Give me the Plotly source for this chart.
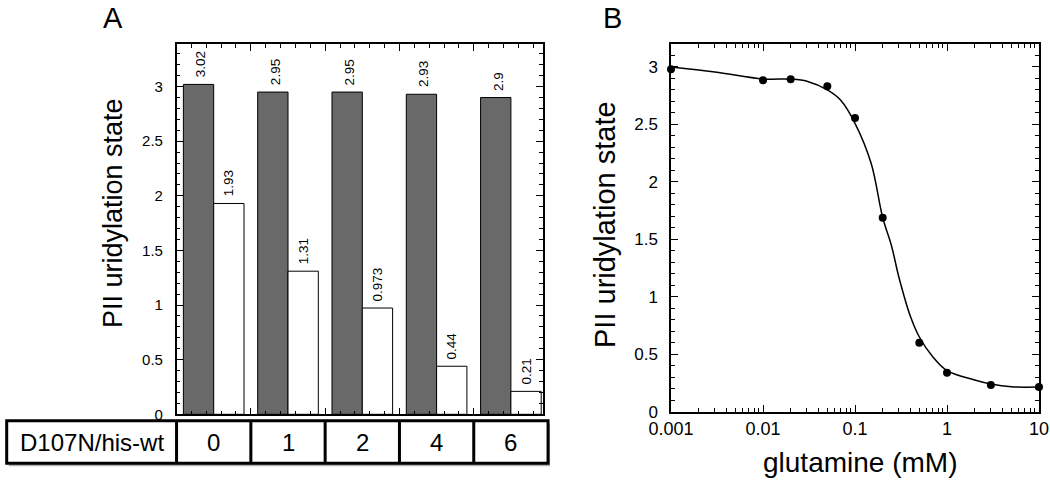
import plotly.graph_objects as go

# ---------------- data ----------------
ratio_labels = ["0", "1", "2", "4", "6"]          # D107N/his-wt ratio
group_index = [0, 1, 2, 3, 4]
his_wt_alone = [3.02, 2.95, 2.95, 2.93, 2.9]       # dark bars
with_d107n = [1.93, 1.31, 0.973, 0.44, 0.21]       # white bars
gray_labels = ["3.02", "2.95", "2.95", "2.93", "2.9"]
white_labels = ["1.93", "1.31", "0.973", "0.44", "0.21"]

glutamine_mM = [0.001, 0.01, 0.02, 0.05, 0.1, 0.2, 0.5, 1, 3, 10]
uridylation = [2.98, 2.884, 2.893, 2.832, 2.557, 1.687, 0.60, 0.339, 0.232, 0.215]

fit_x = [0.001, 0.003, 0.01, 0.02, 0.03, 0.05, 0.07, 0.1, 0.15, 0.2, 0.25, 0.3,
         0.4, 0.5, 0.7, 1, 2, 3, 5, 10]
fit_y = [3.0, 2.957, 2.896, 2.894, 2.876, 2.80, 2.71, 2.51, 2.16, 1.69, 1.44, 1.17,
         0.83, 0.65, 0.478, 0.357, 0.276, 0.241, 0.217, 0.215]

b_tick_vals = [0.001, 0.01, 0.1, 1, 10]
b_tick_text = ["0.001", "0.01", "0.1", "1", "10"]

# ---------------- layout helpers ----------------
W, H = 1050, 482
FONT = "Liberation Sans, Arial, Helvetica, sans-serif"
BAR_W = 0.408


def px_x(px):
    return px / W


def px_y(py):
    return 1 - py / H


xa_range = [-0.498, 4.428]
xa_dom = [px_x(176.7), px_x(542.7)]


def xa_to_paper(v):
    return xa_dom[0] + (v - xa_range[0]) / (xa_range[1] - xa_range[0]) * (xa_dom[1] - xa_dom[0])


fig = go.Figure()

fig.add_trace(go.Bar(
    x=[i - BAR_W / 2 for i in group_index], y=his_wt_alone, width=BAR_W,
    marker=dict(color="#696969", line=dict(color="black", width=1)),
    xaxis="x", yaxis="y", showlegend=False, hoverinfo="y"))
fig.add_trace(go.Bar(
    x=[i + BAR_W / 2 for i in group_index], y=with_d107n, width=BAR_W,
    marker=dict(color="white", line=dict(color="black", width=1)),
    xaxis="x", yaxis="y", showlegend=False, hoverinfo="y"))

fig.add_trace(go.Scatter(
    x=fit_x, y=fit_y, mode="lines", line=dict(color="black", width=1.5, shape="spline"),
    xaxis="x2", yaxis="y2", showlegend=False, hoverinfo="skip", cliponaxis=False))
fig.add_trace(go.Scatter(
    x=glutamine_mM, y=uridylation, mode="markers",
    marker=dict(color="black", size=8),
    xaxis="x2", yaxis="y2", showlegend=False, cliponaxis=False))

annotations = []


def txt(x, y, text, size, **kw):
    d = dict(x=x, y=y, xref="paper", yref="paper", text=text, showarrow=False,
             xanchor="center", yanchor="middle",
             font=dict(size=size, family=FONT, color="black"))
    d.update(kw)
    annotations.append(d)


# bar value labels
for i, v, t in zip(group_index, his_wt_alone, gray_labels):
    annotations.append(dict(x=i - BAR_W / 2 + 0.03, y=v, xref="x", yref="y", text=t,
                            textangle=-90, showarrow=False, xanchor="center",
                            yanchor="bottom", yshift=5,
                            font=dict(size=13.5, family=FONT, color="black")))
for i, v, t in zip(group_index, with_d107n, white_labels):
    annotations.append(dict(x=i + BAR_W / 2, y=v, xref="x", yref="y", text=t,
                            textangle=-90, showarrow=False, xanchor="center",
                            yanchor="bottom", yshift=5,
                            font=dict(size=13.5, family=FONT, color="black")))

# panel letters
txt(px_x(113), px_y(18), "A", 29)
txt(px_x(612), px_y(18), "B", 29)

# axis titles
txt(px_x(113), px_y(213), "PII uridylation state", 27, textangle=-90)
txt(px_x(605), px_y(225), "PII uridylation state", 29, textangle=-90)
txt(px_x(860), px_y(462), "glutamine (mM)", 28)

# table under panel A
tbl_top, tbl_bot = px_y(420.7), px_y(463.3)
tbl_left = px_x(6.7)
col_edges = [xa_to_paper(v) for v in [-0.5, 0.5, 1.5, 2.5, 3.5, 4.5]]
shapes = [
    dict(type="rect", xref="paper", yref="paper", x0=tbl_left + 2 / W, x1=col_edges[-1] + 2 / W,
         y0=tbl_bot - 3 / H, y1=tbl_top - 3 / H, fillcolor="#b0b0b0", line=dict(width=0)),
    dict(type="rect", xref="paper", yref="paper", x0=tbl_left, x1=col_edges[-1],
         y0=tbl_bot, y1=tbl_top, fillcolor="white", line=dict(color="black", width=3)),
]
for e in col_edges[:-1]:
    shapes.append(dict(type="line", xref="paper", yref="paper", x0=e, x1=e,
                       y0=tbl_bot, y1=tbl_top, line=dict(color="black", width=3)))
txt((tbl_left + col_edges[0]) / 2, px_y(442), "D107N/his-wt", 24)
for i, lab in zip(group_index, ratio_labels):
    txt((col_edges[i] + col_edges[i + 1]) / 2, px_y(442), lab, 24)

axis_common = dict(showline=True, linecolor="black", linewidth=1.5, mirror="ticks",
                   ticks="inside", tickcolor="black", ticklen=7, tickwidth=1,
                   showgrid=False, zeroline=False, automargin=False)

minor_log = [m * 10 ** e for e in range(-3, 1) for m in range(2, 10)]

fig.update_layout(
    width=W, height=H, margin=dict(l=0, r=0, t=0, b=0, pad=0, autoexpand=False),
    paper_bgcolor="white", plot_bgcolor="white",
    barmode="overlay", font=dict(family=FONT, color="black"),
    xaxis=dict(domain=xa_dom, range=xa_range, showticklabels=False,
               tickmode="linear", tick0=-0.5, dtick=1,
               minor=dict(ticks="inside", tickmode="linear", tick0=-0.5, dtick=0.2,
                          ticklen=4, tickcolor="black"),
               anchor="y", **axis_common),
    yaxis=dict(domain=[px_y(414.3), px_y(44)], range=[0, 3.39],
               tickmode="linear", tick0=0, dtick=0.5,
               tickfont=dict(size=15, family=FONT), ticklabelstandoff=9,
               minor=dict(ticks="inside", tickmode="linear", tick0=0, dtick=0.1,
                          ticklen=4, tickcolor="black"),
               anchor="x", **axis_common),
    xaxis2=dict(type="log", domain=[px_x(671), px_x(1039)], range=[-3, 1],
                tickmode="array", tickvals=b_tick_vals, ticktext=b_tick_text,
                tickfont=dict(size=18, family=FONT), ticklabelstandoff=0,
                minor=dict(ticks="inside", tickmode="array", tickvals=minor_log,
                           ticklen=4, tickcolor="black"),
                anchor="y2", **axis_common),
    yaxis2=dict(domain=[px_y(411.7), px_y(44)], range=[0, 3.2],
                tickmode="linear", tick0=0, dtick=0.5,
                tickfont=dict(size=17, family=FONT), ticklabelstandoff=8,
                minor=dict(ticks="inside", tickmode="linear", tick0=0, dtick=0.1,
                           ticklen=4, tickcolor="black"),
                anchor="x2", **axis_common),
    annotations=annotations, shapes=shapes,
)

# remove the browser's default 8px body margin so the 1050x482 figure fills the window
fig.write_html("out.html", config={"displayModeBar": False},
               post_script="document.body.style.margin='0';document.body.style.overflow='hidden';")
